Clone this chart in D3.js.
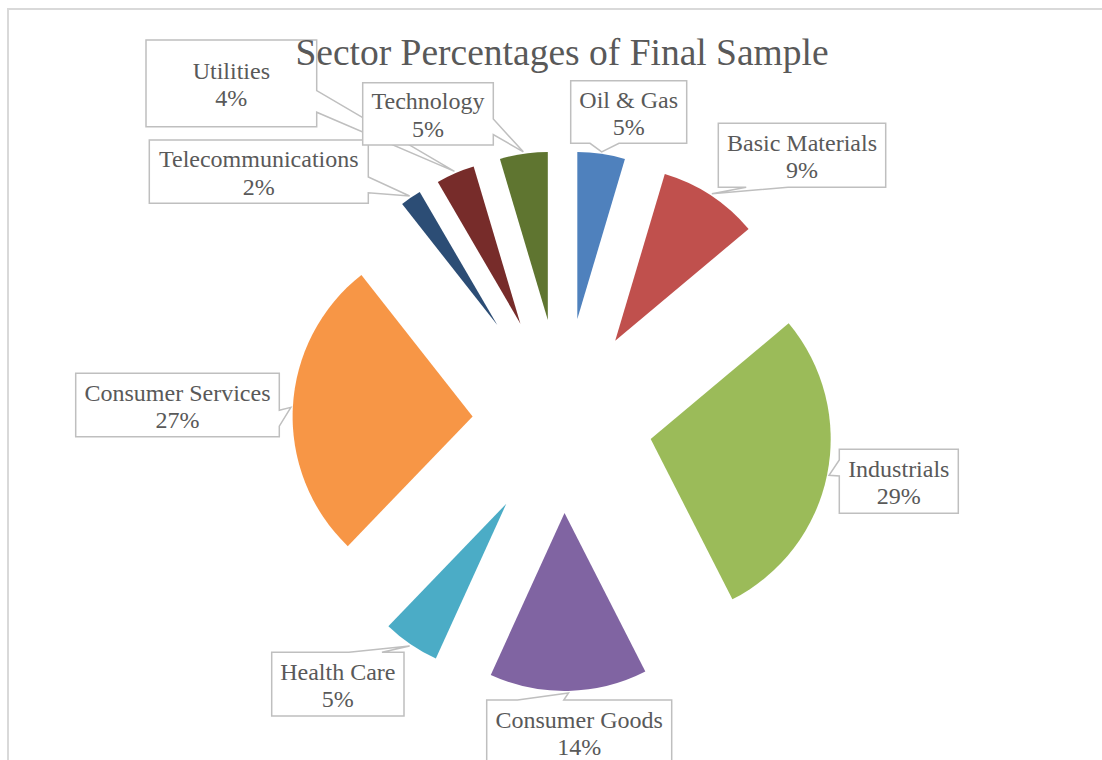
<html>
<head>
<script src="https://d3js.org/d3.v7.min.js"></script>
<style>
    body { margin: 0; background: #fff; }
</style>
</head>
<body>
<script>

    // sector shares of the final sample (in %), clockwise from 12 o'clock
    let sectors = ["Oil & Gas","Basic Materials","Industrials","Consumer Goods","Health Care",
                   "Consumer Services","Telecommunications","Utilities","Technology"];
    let shares = [4.6, 9.3, 28.6, 14.3, 5.4, 27.2, 2.2, 3.8, 4.6];
    let colors = ["#4F81BD","#C0504D","#9BBB59","#8064A2","#4BACC6",
                  "#F79646","#2C4D75","#772C2A","#5F7530"];

    // layout: how far each slice is pulled out, and the callout boxes [x, y, w, h]
    let explode = [103, 96, 90, 92, 100, 90, 116, 106, 102];
    let boxes = [
        [570.7, 80.7, 116, 62.6],
        [718.3, 123.3, 167.4, 64],
        [839.3, 449.3, 119, 64],
        [486.7, 700, 185, 64],
        [271.7, 652.3, 132.3, 63.7],
        [75.7, 373.3, 203.6, 63.4],
        [149.3, 140, 219, 63.3],
        [146, 40, 170.7, 86.7],
        [362.7, 82.7, 130.6, 62.3]
    ];

    let width = 1102, height = 760;
    let cx = 562.5, cy = 421, R = 270;
    let font = "'Liberation Serif','Times New Roman',serif";
    let textColor = "#595959";

    let svg = d3.select("body").append("svg")
        .attr("width", width)
        .attr("height", height);

    // chart area outline (runs off the right and bottom of the picture)
    svg.append("rect")
        .attr("x", 8)
        .attr("y", 9)
        .attr("width", width + 20)
        .attr("height", height + 20)
        .attr("fill", "#fff")
        .attr("stroke", "#d9d9d9")
        .attr("stroke-width", 2);

    let pie = d3.pie().sort(null).value(d => d);
    let arcs = pie(shares);

    function midAngle(a) { return (a.startAngle + a.endAngle) / 2; }

    //Draw slices, each pulled out along its middle angle
    arcs.forEach((a, i) => {
        let m = midAngle(a);
        let arc = d3.arc().innerRadius(0).outerRadius(R - explode[i]);
        svg.append("path")
            .attr("d", arc(a))
            .attr("fill", colors[i])
            .attr("transform", "translate(" + (cx + explode[i] * Math.sin(m)) + "," + (cy - explode[i] * Math.cos(m)) + ")");
    });

    // rectangle callout with a wedge pointing at (tx,ty)
    function calloutPath(b, tx, ty) {
        let [x, y, w, h] = b;
        let dx = tx - (x + w / 2), dy = ty - (y + h / 2);
        let p = d3.path();
        let side;
        if (Math.abs(dx) / w > Math.abs(dy) / h) side = dx < 0 ? "left" : "right";
        else side = dy < 0 ? "top" : "bottom";
        let f1, f2;
        if (side == "left" || side == "right") { f1 = dy < 0 ? 2/12 : 7/12; f2 = dy < 0 ? 5/12 : 10/12; }
        else { f1 = dx < 0 ? 2/12 : 7/12; f2 = dx < 0 ? 5/12 : 10/12; }

        p.moveTo(x, y);
        if (side == "top") { p.lineTo(x + w * f1, y); p.lineTo(tx, ty); p.lineTo(x + w * f2, y); }
        p.lineTo(x + w, y);
        if (side == "right") { p.lineTo(x + w, y + h * f1); p.lineTo(tx, ty); p.lineTo(x + w, y + h * f2); }
        p.lineTo(x + w, y + h);
        if (side == "bottom") { p.lineTo(x + w * f2, y + h); p.lineTo(tx, ty); p.lineTo(x + w * f1, y + h); }
        p.lineTo(x, y + h);
        if (side == "left") { p.lineTo(x, y + h * f2); p.lineTo(tx, ty); p.lineTo(x, y + h * f1); }
        p.closePath();
        return p.toString();
    }

    //Draw data callouts
    arcs.forEach((a, i) => {
        let m = midAngle(a);
        let tx = cx + (R + 2) * Math.sin(m);
        let ty = cy - (R + 2) * Math.cos(m);
        let b = boxes[i];
        let g = svg.append("g");
        g.append("path")
            .attr("d", calloutPath(b, tx, ty))
            .attr("fill", "#fff")
            .attr("stroke", "#bfbfbf")
            .attr("stroke-width", 1.5)
            .attr("stroke-linejoin", "miter");
        let mx = b[0] + b[2] / 2, my = b[1] + b[3] / 2;
        g.append("text")
            .attr("x", mx)
            .attr("y", my - 4.5)
            .attr("text-anchor", "middle")
            .style("font-family", font)
            .style("font-size", "24px")
            .attr("fill", textColor)
            .text(sectors[i]);
        g.append("text")
            .attr("x", mx)
            .attr("y", my + 23)
            .attr("text-anchor", "middle")
            .style("font-family", font)
            .style("font-size", "24px")
            .attr("fill", textColor)
            .text(Math.round(shares[i]) + "%");
    });

    //Title
    svg.append("text")
        .attr("x", 562)
        .attr("y", 65)
        .attr("text-anchor", "middle")
        .style("font-family", font)
        .style("font-size", "37.5px")
        .attr("fill", textColor)
        .text("Sector Percentages of Final Sample");

</script>
</body>
</html>
